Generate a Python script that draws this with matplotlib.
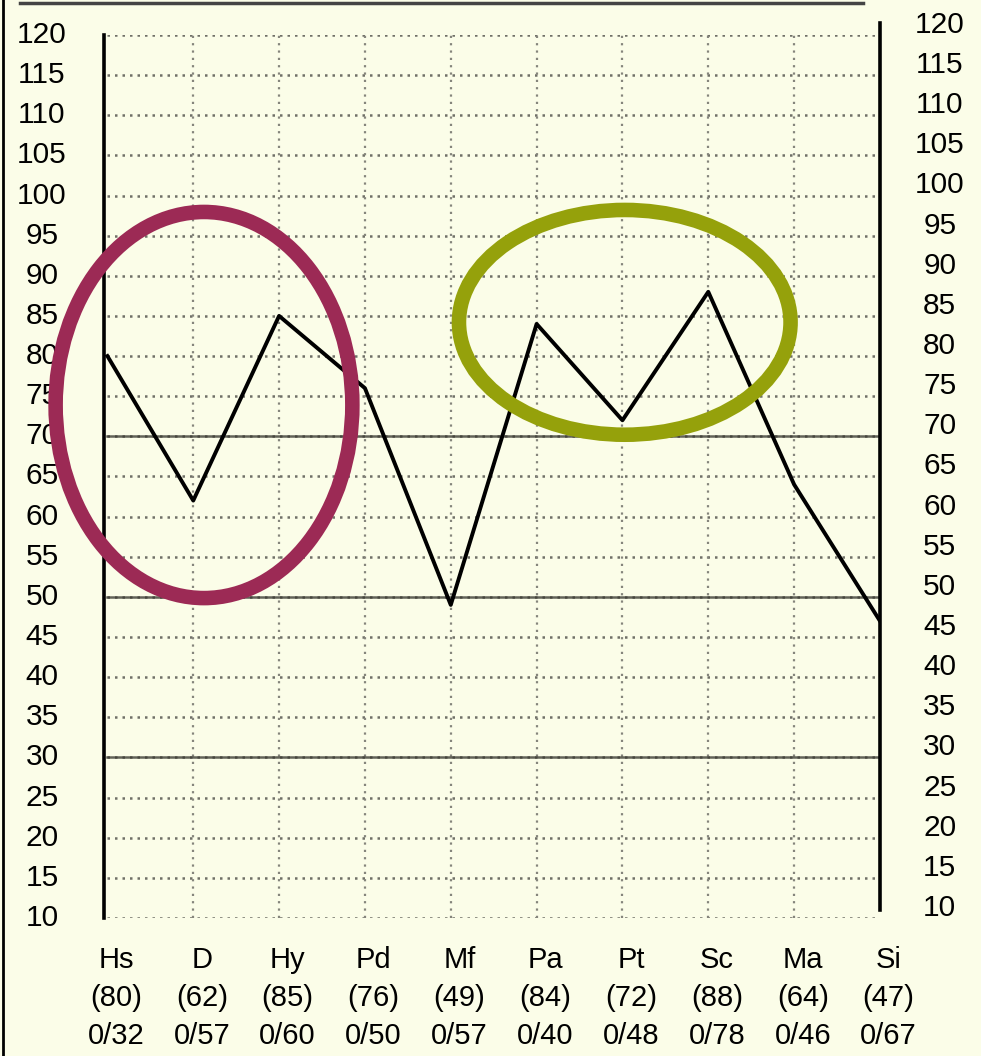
import matplotlib.pyplot as plt
import matplotlib.patches as mpatches
from matplotlib.lines import Line2D
import numpy as np

plt.rcParams['font.family'] = ['Liberation Sans', 'DejaVu Sans']

# dados do perfil
escalas = ['Hs', 'D', 'Hy', 'Pd', 'Mf', 'Pa', 'Pt', 'Sc', 'Ma', 'Si']
notas_t = [80, 62, 85, 76, 49, 84, 72, 88, 64, 47]
brutos = ['0/32', '0/57', '0/60', '0/50', '0/57', '0/40', '0/48', '0/78', '0/46', '0/67']
niveis = list(range(10, 125, 5))
linhas_fortes = [30, 50, 70]

fundo = '#fbfde8'
fig = plt.figure(figsize=(9.81, 10.56), dpi=100, facecolor=fundo)
ax = fig.add_axes([0.106, 0.1307, 0.791, 0.8362], facecolor=fundo)

x = np.arange(len(escalas))
ax.set_xlim(-0.04, len(escalas) - 1)
ax.set_ylim(10, 120)

# grelha
for v in niveis:
    ax.plot([0, 9], [v, v], color='#707068', lw=1.8, ls=(0, (1, 2.0)), zorder=1)
for xi in x[1:-1]:
    ax.plot([xi, xi], [10, 120], color='#85857c', lw=1.6, ls=(0, (1, 2.3)), zorder=1)
for v in linhas_fortes:
    ax.plot([0, 9], [v, v], color='#3c3c34', lw=1.8, alpha=0.8, zorder=1.5)

# linha do perfil
ax.plot(x, notas_t, color='black', lw=2.8, zorder=3)

# eixos
for s in ['top', 'bottom', 'right']:
    ax.spines[s].set_visible(False)
ax.spines['left'].set_linewidth(2.6)
ax.plot([9, 9], [11.0, 121.5], color='black', lw=2.6, clip_on=False, zorder=3)
ax.set_xticks([])
ax.set_yticks([])

for v in niveis:
    ax.text(-0.0799, v, str(v), transform=ax.get_yaxis_transform(),
            ha='center', va='center', fontsize=21.5)
    ax.text(1.077, v + 1.25, str(v), transform=ax.get_yaxis_transform(),
            ha='center', va='center', fontsize=21.5)

# etiquetas das escalas
for xi, nome, t, b in zip(x, escalas, notas_t, brutos):
    ax.text(xi + 0.1, -0.0476, nome, transform=ax.get_xaxis_transform(),
            ha='center', va='center', fontsize=21)
    ax.text(xi + 0.1, -0.0906, f'({t})', transform=ax.get_xaxis_transform(),
            ha='center', va='center', fontsize=21)
    ax.text(xi + 0.1, -0.1336, b, transform=ax.get_xaxis_transform(),
            ha='center', va='center', fontsize=21)

# elipses de destaque
el1 = mpatches.Ellipse((1.125, 73.9), 3.457, 48.1, fill=False,
                       edgecolor='#9c2a55', lw=10.5, clip_on=False, zorder=4)
el2 = mpatches.Ellipse((6.027, 84.2), 3.863, 28.0, fill=False,
                       edgecolor='#95a10b', lw=10.5, clip_on=False, zorder=4)
ax.add_patch(el1)
ax.add_patch(el2)

# moldura
fig.add_artist(Line2D([0.003, 0.003], [0, 1], color='black', lw=2))
fig.add_artist(Line2D([0.02, 0.88], [0.997, 0.997], color='#444444', lw=2.5))

fig.savefig('out.png', dpi=100, facecolor=fundo)
